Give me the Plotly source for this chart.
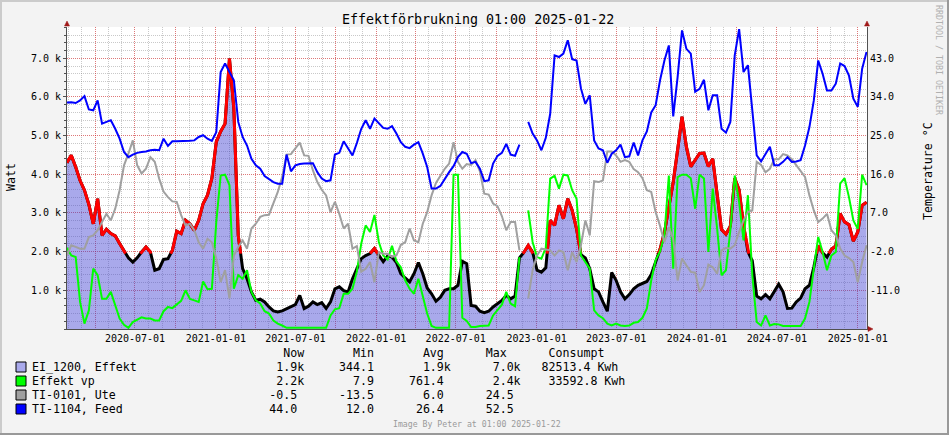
import pandas as pd
import plotly.graph_objects as go

# ---------------- data ----------------
START_DATE = "2020-01-28"
STEP = "10D"

# EI_1200, Effekt  (kW)
effekt_kw = [
    4.30, 4.49, 4.19, 3.84, 3.59, 3.22, 2.72, 3.37, 2.42, 2.58,
    2.47, 2.41, 2.21, 2.01, 1.84, 1.73, 1.84, 1.99, 2.12, 1.99,
    1.52, 1.56, 1.80, 1.82, 2.03, 2.53, 2.47, 2.81, 2.72, 2.55,
    2.81, 3.24, 3.46, 3.90, 4.84, 5.11, 5.31, 6.99, 5.70, 2.42,
    1.56, 1.30, 0.96, 0.74, 0.77, 0.70, 0.57, 0.47, 0.44, 0.47,
    0.53, 0.57, 0.63, 0.87, 0.53, 0.59, 0.70, 0.63, 0.68, 0.53,
    0.70, 1.04, 1.09, 0.99, 0.96, 1.30, 1.56, 1.82, 1.90, 1.95,
    2.08, 1.90, 1.74, 1.89, 1.86, 1.72, 1.43, 1.32, 1.22, 1.43,
    1.72, 1.43, 1.06, 0.91, 0.72, 0.82, 1.00, 1.04, 1.04, 1.13,
    1.75, 1.69, 0.61, 0.59, 0.46, 0.42, 0.46, 0.57, 0.66, 0.74,
    0.87, 0.78, 0.85, 1.84, 1.98, 2.16, 1.99, 1.52, 1.47, 1.58,
    2.81, 2.68, 3.20, 2.85, 3.37, 3.07, 2.59, 1.92, 1.84, 1.56,
    1.04, 0.96, 0.70, 0.46, 1.46, 1.26, 0.96, 0.78, 0.89, 1.04,
    1.13, 1.17, 1.23, 1.41, 1.75, 2.06, 2.49, 3.16, 3.80, 4.63,
    5.49, 4.71, 4.20, 4.37, 4.54, 4.55, 4.20, 4.40, 3.40, 2.57,
    2.45, 2.66, 3.90, 3.60, 2.68, 2.00, 1.76, 0.85, 0.78, 0.89,
    0.78, 0.97, 1.16, 0.96, 0.53, 0.54, 0.70, 0.80, 1.04, 1.13,
    1.60, 2.16, 1.97, 1.86, 2.06, 2.15, 2.98, 2.77, 2.70, 2.27,
    2.51, 3.20, 3.28,
]

# Effekt vp  (kW)
effekt_vp_kw = [
    2.10, 1.90, 1.86, 0.70, 0.14, 0.48, 1.56, 1.39, 0.78, 0.78,
    0.96, 0.61, 0.27, 0.11, 0.03, 0.18, 0.25, 0.30, 0.27, 0.27,
    0.22, 0.22, 0.46, 0.57, 0.54, 0.63, 0.73, 1.00, 0.78, 0.74,
    0.70, 1.23, 1.03, 1.04, 2.77, 3.97, 3.99, 3.72, 1.04, 1.39,
    1.30, 1.52, 0.96, 0.74, 0.66, 0.46, 0.40, 0.22, 0.14, 0.09,
    0.03, 0.03, 0.03, 0.03, 0.03, 0.03, 0.03, 0.03, 0.03, 0.03,
    0.35, 0.51, 0.54, 0.91, 0.91, 1.04, 1.49, 2.21, 2.68, 2.51,
    2.95, 2.25, 1.90, 1.80, 2.15, 1.75, 1.60, 1.26, 1.04, 0.91,
    1.30, 0.87, 0.40, 0.08, 0.03, 0.03, 0.03, 0.03, 3.99, 3.99,
    0.29, 0.21, 0.05, 0.05, 0.08, 0.09, 0.09, 0.35, 0.48, 0.63,
    0.96, 0.66, 0.59, 1.86, None, 3.07, 2.25, 1.86, 1.82, 2.10,
    3.89, 3.96, 3.63, 3.99, 3.97, 3.59, 3.37, 1.90, 1.73, 1.56,
    0.48, 0.35, 0.28, 0.14, 0.09, 0.14, 0.09, 0.08, 0.09, 0.16,
    0.18, 0.29, 0.53, 1.26, 1.78, 2.01, 2.42, 3.97, 1.56, 3.93,
    3.99, 3.99, 3.90, 3.11, 3.99, 3.89, 1.99, 3.63, 2.59, 1.39,
    1.52, 2.55, 3.97, 3.28, 2.29, 3.46, 1.39, 0.18, 0.09, 0.35,
    0.09, 0.13, 0.12, 0.08, 0.08, 0.08, 0.08, 0.08, 0.27, 0.70,
    1.56, 2.38, 1.99, 1.52, 1.90, 1.99, 3.76, 3.90, 3.41, 2.81,
    2.59, 3.99, 3.72,
]

# TI-0101, Ute  (deg C)
ute_c = [
    -2.9, -0.5, -0.9, -1.3, -1.3, 1.4, 1.8, 3.0, 4.9, 6.8,
    5.3, 8.0, 12.3, 18.1, 20.8, 23.9, 18.1, 16.2, 17.3, 20.0,
    18.9, 15.0, 12.0, 10.7, 9.7, 9.6, 6.5, 4.1, 4.5, 3.0,
    0.2, -1.3, 1.0, 0.2, -3.6, -9.1, -6.3, -12.9, -2.9, -0.9,
    0.6, -1.3, 3.4, 4.5, 6.1, 6.5, 6.6, 9.2, 11.9, 15.4,
    20.6, 20.7, 22.0, 23.4, 20.4, 20.3, 16.9, 14.2, 12.4, 11.1,
    7.2, 9.6, 6.8, 3.4, 4.5, -1.3, -0.7, -6.7, -6.0, -4.4,
    -9.1, -2.1, -2.5, -2.5, -3.2, -2.9, -0.4, 0.2, 3.4, 0.6,
    0.2, 4.5, 7.2, 11.1, 14.0, 15.8, 17.3, 18.5, 23.5, 18.9,
    17.3, 18.4, 18.2, 19.3, 16.7, 11.5, 11.3, 9.2, 8.6, 6.3,
    3.0, 4.9, 4.9, -1.7, None, -12.9, -6.3, -2.9, -1.3, -1.5,
    -1.7, -2.9, -1.7, -2.1, -6.3, -2.1, -4.4, -0.5, 5.3, 1.8,
    14.4, 14.2, 14.6, 21.3, 21.3, 20.4, 18.9, 19.3, 18.9, 17.2,
    16.5, 15.1, 12.3, 11.9, 7.2, 4.0, 0.2, 3.7, 1.0, -8.7,
    -3.6, -5.2, -6.7, -6.9, -11.4, -9.8, -5.0, -5.6, -7.1, -1.7,
    -1.1, -1.3, -0.5, 2.6, 5.3, 7.2, 7.6, 18.9, 18.2, 16.5,
    17.3, 19.5, 19.5, 20.7, 20.4, 19.5, 18.2, 16.7, 15.4, 11.1,
    7.6, 4.9, 5.7, 6.8, 3.0, 1.8, -1.3, -2.9, -3.5, -4.4,
    -9.1, -4.4, -0.5,
]

# TI-1104, Feed  (deg C)
feed_c = [
    32.7, 32.8, 32.6, 33.2, 34.2, 31.1, 30.9, 33.2, 27.8, 28.2,
    28.6, 26.6, 24.3, 21.2, 20.0, 20.6, 21.0, 21.2, 21.3, 21.6,
    21.7, 21.6, 24.3, 22.6, 23.7, 23.7, 23.7, 23.8, 23.8, 23.9,
    24.7, 25.1, 24.3, 23.8, 25.8, 39.8, 41.8, 39.8, 37.9, 28.2,
    24.7, 22.7, 19.6, 18.1, 17.3, 15.6, 14.8, 14.2, 13.8, 13.8,
    20.6, 16.7, 18.1, 18.4, 18.5, 18.5, 18.6, 16.5, 15.0, 14.4,
    14.6, 20.6, 21.0, 23.7, 22.0, 20.4, 23.3, 26.6, 28.6, 26.6,
    29.0, 27.8, 26.8, 26.6, 27.2, 25.5, 23.5, 22.4, 22.1, 22.9,
    23.5, 20.8, 17.7, 12.7, 12.7, 13.3, 15.0, 16.5, 17.9, 20.0,
    21.2, 20.8, 18.6, 18.9, 17.3, 14.4, 14.6, 18.5, 20.3, 21.0,
    23.1, 20.6, 20.3, 22.9, None, 28.2, 25.5, 23.9, 21.6, 24.5,
    30.1, 43.7, 43.3, 44.1, 47.2, 42.8, 42.5, 36.0, 32.4, 34.4,
    23.9, 22.0, 21.6, 18.7, 20.8, 21.6, 22.9, 20.0, 20.2, 23.4,
    20.4, 23.9, 26.0, 30.4, 32.1, 37.9, 42.5, 46.0, 29.5, 38.6,
    49.5, 45.2, 44.1, 35.2, 35.9, 38.0, 30.9, 34.4, 34.4, 26.6,
    25.7, 28.2, 43.7, 49.8, 39.8, 41.4, 31.7, 20.4, 19.0, 20.8,
    22.4, 18.1, 18.1, 18.9, 20.0, 18.9, 19.0, 19.3, 22.7, 27.0,
    33.2, 42.5, 39.4, 35.5, 35.5, 37.1, 41.8, 41.2, 39.0, 33.6,
    31.7, 40.6, 44.5,
]

RED_THRESHOLD_KW = 1.95

title_text = "Effektförbrukning 01:00 2025-01-22"
footer_text = "Image By Peter at 01:00 2025-01-22"
x_range = ["2020-01-28 06:00", "2025-01-22 01:00"]

date_tick_vals = ["2020-04-01", "2020-07-01", "2020-10-01", "2021-01-01", "2021-04-01",
                  "2021-07-01", "2021-10-01", "2022-01-01", "2022-04-01", "2022-07-01",
                  "2022-10-01", "2023-01-01", "2023-04-01", "2023-07-01", "2023-10-01",
                  "2024-01-01", "2024-04-01", "2024-07-01", "2024-10-01", "2025-01-01"]
date_tick_labels = ["", "2020-07-01", "", "2021-01-01", "", "2021-07-01", "", "2022-01-01",
                    "", "2022-07-01", "", "2023-01-01", "", "2023-07-01", "", "2024-01-01",
                    "", "2024-07-01", "", "2025-01-01"]

watt_tick_vals = [1000, 2000, 3000, 4000, 5000, 6000, 7000]
watt_tick_labels = ["1.0 k", "2.0 k", "3.0 k", "4.0 k", "5.0 k", "6.0 k", "7.0 k"]
temp_tick_vals = [-11, -2, 7, 16, 25, 34, 43]
temp_tick_labels = ["-11.0", "-2.0", "7.0", "16.0", "25.0", "34.0", "43.0"]

legend_names = ["EI_1200, Effekt", "Effekt vp", "TI-0101, Ute", "TI-1104, Feed"]
legend_colors = ["#A9A9EB", "#00FF00", "#A0A0A0", "#0000FF"]
legend_header = ["Now", "Min", "Avg", "Max", "Consumpt"]
stat_now = ["1.9k", "2.2k", "-0.5", "44.0"]
stat_min = ["344.1", "7.9", "-13.5", "12.0"]
stat_avg = ["1.9k", "761.4", "6.0", "26.4"]
stat_max = ["7.0k", "2.4k", "24.5", "52.5"]
stat_consumpt = ["82513.4 Kwh", "33592.8 Kwh", "", ""]

# ---------------- geometry / style ----------------
W, H = 949, 435
PL, PR, PT, PB = 67, 867, 27, 329          # plot area in pixels
Y_MAX_W = 7810.0
TEMP_SCALE, TEMP_SHIFT = 0.009, -20.0      # right axis = W * 0.009 - 20
FONT = "DejaVu Sans Mono"
MAJOR = "rgba(255,0,0,0.40)"
MINOR = "rgba(120,120,120,0.40)"
AXIS = "#505050"
ARROW = "#A01818"
AREA_FILL = "rgba(60,60,210,0.44)"


def px(x):
    return (x - PL) / (PR - PL)


def py(y):
    return (PB - y) / (PB - PT)


dates = pd.date_range(START_DATE, periods=len(effekt_kw), freq=STEP)
effekt_w = [v * 1000 for v in effekt_kw]
vp_w = [None if v is None else v * 1000 for v in effekt_vp_kw]
thr = RED_THRESHOLD_KW * 1000

# red part of the effekt line: where the value is above the threshold
t_ns = dates.asi8
rx, ry = [], []
in_run = False
for i in range(len(effekt_w) - 1):
    y0, y1 = effekt_w[i], effekt_w[i + 1]
    if y0 > thr and not in_run:
        rx.append(t_ns[i]); ry.append(y0); in_run = True
    if y0 > thr and y1 > thr:
        rx.append(t_ns[i + 1]); ry.append(y1)
    elif y0 > thr and y1 <= thr:
        f = (y0 - thr) / (y0 - y1)
        rx.append(t_ns[i] + f * (t_ns[i + 1] - t_ns[i])); ry.append(thr)
        rx.append(None); ry.append(None); in_run = False
    elif y0 <= thr and y1 > thr:
        f = (thr - y0) / (y1 - y0)
        rx.append(t_ns[i] + f * (t_ns[i + 1] - t_ns[i])); ry.append(thr)
        rx.append(t_ns[i + 1]); ry.append(y1); in_run = True
rx = [None if v is None else pd.Timestamp(int(v)).to_pydatetime() for v in rx]

fig = go.Figure()
fig.add_trace(go.Scatter(x=dates, y=effekt_w, mode="lines", line=dict(width=0),
                         fill="tozeroy", fillcolor=AREA_FILL, hoverinfo="skip"))
fig.add_trace(go.Scatter(x=dates, y=effekt_w, mode="lines",
                         line=dict(color="#000000", width=3)))
fig.add_trace(go.Scatter(x=rx, y=ry, mode="lines",
                         line=dict(color="#FF0000", width=3)))
fig.add_trace(go.Scatter(x=dates, y=vp_w, mode="lines",
                         line=dict(color="#00FF00", width=2)))
fig.add_trace(go.Scatter(x=dates, y=ute_c, mode="lines", yaxis="y2",
                         line=dict(color="#A0A0A0", width=2)))
fig.add_trace(go.Scatter(x=dates, y=feed_c, mode="lines", yaxis="y2",
                         line=dict(color="#0000FF", width=2)))

fig.update_layout(
    width=W, height=H,
    margin=dict(l=PL, r=W - PR, t=PT, b=H - PB, pad=0),
    paper_bgcolor="#F3F3F3", plot_bgcolor="#FFFFFF",
    showlegend=False,
    font=dict(family=FONT, size=10, color="#000000"),
    xaxis=dict(type="date", range=x_range, tickmode="array",
               tickvals=date_tick_vals, ticktext=date_tick_labels,
               showgrid=True, gridcolor=MAJOR, griddash="1px,1px", gridwidth=1,
               showline=True, linecolor=AXIS, linewidth=1, zeroline=False,
               ticks="", tickfont=dict(size=10, family=FONT),
               minor=dict(tickmode="linear", tick0="2020-01-01", dtick="M1",
                          showgrid=True, gridcolor=MINOR, griddash="1px,1px", gridwidth=1)),
    yaxis=dict(range=[0, Y_MAX_W], tickmode="array",
               tickvals=watt_tick_vals, ticktext=watt_tick_labels,
               showgrid=True, gridcolor=MAJOR, griddash="1px,1px", gridwidth=1,
               showline=True, linecolor=AXIS, linewidth=1, zeroline=False,
               ticks="outside", ticklen=3, tickcolor=AXIS,
               tickfont=dict(size=10, family=FONT),
               minor=dict(tickmode="linear", tick0=0, dtick=200, showgrid=True,
                          gridcolor=MINOR, griddash="1px,1px", gridwidth=1,
                          ticks="outside", ticklen=2, tickcolor=AXIS)),
    yaxis2=dict(overlaying="y", side="right",
                range=[TEMP_SHIFT, Y_MAX_W * TEMP_SCALE + TEMP_SHIFT],
                tickmode="array", tickvals=temp_tick_vals, ticktext=temp_tick_labels,
                showgrid=False, showline=True, linecolor=AXIS, linewidth=1,
                zeroline=False, ticks="", tickfont=dict(size=10, family=FONT)),
)

annotations = []


def ann(text, x, y, size, color="#000000", xanchor="center", yanchor="middle", angle=0):
    annotations.append(dict(text=text, x=px(x), y=py(y), xref="paper", yref="paper",
                            showarrow=False, xanchor=xanchor, yanchor=yanchor,
                            textangle=angle, font=dict(family=FONT, size=size, color=color)))


ann(title_text, 478, 19, 13.3)
ann("Watt", 11, 177, 11.6, angle=-90)
ann("Temperature °C", 928, 171, 11.6, angle=-90)
ann("RRDTOOL / TOBI OETIKER", 939, 60, 8.3, color="#B0B0B0", angle=90)
ann(footer_text, 477, 424, 8.2, color="#9A9A9A")

# legend as monospace rows
CW = 7.0
LX0 = 30


def row(cells):
    s = ""
    for col, txt in cells:
        if len(s) < col:
            s += "\u00a0" * (col - len(s))
        s += txt
    return s


header = row([(36, legend_header[0]), (46, legend_header[1]), (56, legend_header[2]),
              (65, legend_header[3]), (74, legend_header[4])])
ann(header, LX0, 353, 11.6, xanchor="left")

value_cols = [
    [(35, stat_now[0]), (44, stat_min[0]), (56, stat_avg[0]), (66, stat_max[0]), (73, stat_consumpt[0])],
    [(35, stat_now[1]), (46, stat_min[1]), (54, stat_avg[1]), (66, stat_max[1]), (74, stat_consumpt[1])],
    [(34, stat_now[2]), (44, stat_min[2]), (56, stat_avg[2]), (65, stat_max[2])],
    [(34, stat_now[3]), (45, stat_min[3]), (55, stat_avg[3]), (65, stat_max[3])],
]
row_y = [367, 381, 395, 409]
shapes = []
for k in range(4):
    ann(row([(0, legend_names[k])] + value_cols[k]), LX0, row_y[k], 11.6, xanchor="left")
    shapes.append(dict(type="rect", xref="paper", yref="paper",
                       x0=px(16), x1=px(26), y0=py(row_y[k] + 5), y1=py(row_y[k] - 5),
                       fillcolor=legend_colors[k], line=dict(color="#000000", width=1)))

# axis arrows
def tri(points, color):
    path = "M " + " L ".join(f"{px(a)},{py(b)}" for a, b in points) + " Z"
    shapes.append(dict(type="path", xref="paper", yref="paper", path=path,
                       fillcolor=color, line=dict(color=color, width=0.5)))


tri([(PL, 21), (PL - 2.5, 26), (PL + 2.5, 26)], ARROW)
tri([(PR, 21), (PR - 2.5, 26), (PR + 2.5, 26)], ARROW)
tri([(PR + 6, PB), (PR + 1, PB - 2.5), (PR + 1, PB + 2.5)], ARROW)

# image frame
for (x0, y0, x1, y1, c) in [(0, 1, W, 1, "#CBCBCB"), (1, 0, 1, H, "#CBCBCB"),
                            (0, H - 1, W, H - 1, "#999999"), (W - 1, 0, W - 1, H, "#999999")]:
    shapes.append(dict(type="line", xref="paper", yref="paper",
                       x0=px(x0), y0=py(y0), x1=px(x1), y1=py(y1),
                       line=dict(color=c, width=2)))

fig.update_layout(annotations=annotations, shapes=shapes)
fig.write_html("out.html")
